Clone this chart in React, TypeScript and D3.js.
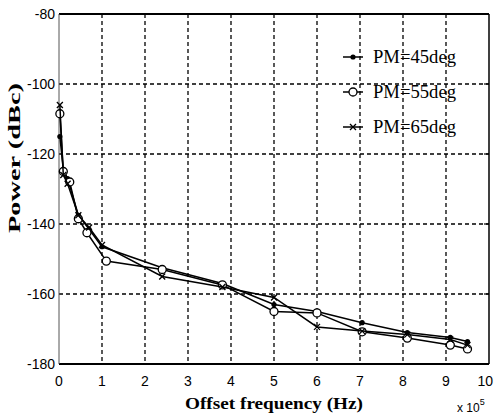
import { useEffect, useRef } from 'react';
import * as d3 from 'd3';

// offset frequency (x 1e5 Hz) and power (dBc) per series
const pm45Freq = [0.02, 0.1, 0.2, 0.45, 0.7, 1.0, 2.4, 3.8, 5, 6, 7.05, 8.1, 9.1, 9.5];
const pm45Power = [-115, -124.5, -127, -137.5, -141.5, -146.5, -152.5, -157, -163, -165, -168.2, -171, -172.4, -173.6];
const pm55Freq = [0.02, 0.1, 0.25, 0.45, 0.65, 1.1, 2.4, 3.8, 5, 6, 7.05, 8.1, 9.1, 9.5];
const pm55Power = [-108.5, -125, -128, -138.5, -142.5, -150.6, -153, -157.4, -165, -165.4, -170.8, -172.6, -174.6, -175.7];
const pm65Freq = [0.02, 0.1, 0.2, 0.45, 0.7, 1.0, 2.4, 3.8, 5, 6, 7.05, 8.1, 9.1, 9.5];
const pm65Power = [-106, -126, -128.5, -137.5, -141, -146, -155, -158, -161, -169.4, -170.6, -171.6, -173, -174.6];

const seriesNames = ['PM=45deg', 'PM=55deg', 'PM=65deg'];
const seriesMarkers = ['dot', 'circle', 'cross'];

const xTicks = [0, 1, 2, 3, 4, 5, 6, 7, 8, 9, 10];
const yTicks = [-80, -100, -120, -140, -160, -180];

const App = () => {
  const svgRef = useRef<SVGSVGElement>(null);

  useEffect(() => {
    const svg = d3.select(svgRef.current);
    svg.selectAll('*').remove();

    const left = 59, right = 489, top = 14, bottom = 364;
    const x = d3.scaleLinear().domain([0, 10]).range([left, right]);
    const y = d3.scaleLinear().domain([-180, -80]).range([bottom, top]);

    svg.append('rect').attr('width', 494).attr('height', 417).attr('fill', 'white');

    // grid
    const grid = svg.append('g').attr('stroke', '#000').attr('stroke-width', 1.3).attr('stroke-dasharray', '4,3');
    grid.selectAll('line.gx')
      .data(xTicks.slice(1, -1))
      .enter()
      .append('line')
      .attr('x1', (d) => x(d)).attr('x2', (d) => x(d))
      .attr('y1', top).attr('y2', bottom);
    grid.selectAll('line.gy')
      .data(yTicks.slice(1, -1))
      .enter()
      .append('line')
      .attr('x1', left).attr('x2', right)
      .attr('y1', (d) => y(d)).attr('y2', (d) => y(d));

    // axes box
    svg.append('line').attr('x1', left).attr('x2', right).attr('y1', top).attr('y2', top).attr('stroke', '#000').attr('stroke-width', 2);
    svg.append('line').attr('x1', left).attr('x2', right).attr('y1', bottom).attr('y2', bottom).attr('stroke', '#000').attr('stroke-width', 2);
    svg.append('line').attr('x1', left).attr('x2', left).attr('y1', top).attr('y2', bottom).attr('stroke', '#555').attr('stroke-width', 1);
    svg.append('line').attr('x1', right).attr('x2', right).attr('y1', top).attr('y2', bottom).attr('stroke', '#000').attr('stroke-width', 1.5);

    // tick marks on right side
    svg.selectAll('line.rt')
      .data(yTicks)
      .enter()
      .append('line')
      .attr('x1', right - 5).attr('x2', right)
      .attr('y1', (d) => y(d)).attr('y2', (d) => y(d))
      .attr('stroke', '#000').attr('stroke-width', 1.2);

    const tickFont = '"Liberation Sans Narrow", "Liberation Sans", sans-serif';

    svg.append('g')
      .selectAll('text')
      .data(yTicks)
      .enter()
      .append('text')
      .attr('x', left - 4)
      .attr('y', (d) => y(d) + 5)
      .attr('text-anchor', 'end')
      .style('font-family', tickFont)
      .style('font-size', '14px')
      .text((d) => d);

    svg.append('g')
      .selectAll('text')
      .data(xTicks)
      .enter()
      .append('text')
      .attr('x', (d) => (d === 10 ? 493 : x(d)))
      .attr('y', bottom + 22)
      .attr('text-anchor', (d) => (d === 10 ? 'end' : 'middle'))
      .style('font-family', tickFont)
      .style('font-size', '14px')
      .text((d) => d);

    // axis titles
    svg.append('text')
      .attr('x', 274)
      .attr('y', 409)
      .attr('text-anchor', 'middle')
      .attr('textLength', 178)
      .attr('lengthAdjust', 'spacingAndGlyphs')
      .style('font-family', '"Liberation Serif", serif')
      .style('font-weight', 'bold')
      .style('font-size', '17px')
      .text('Offset frequency (Hz)');

    svg.append('text')
      .attr('transform', 'translate(20,158) rotate(-90)')
      .attr('text-anchor', 'middle')
      .attr('textLength', 150)
      .attr('lengthAdjust', 'spacingAndGlyphs')
      .style('font-family', '"Liberation Serif", serif')
      .style('font-weight', 'bold')
      .style('font-size', '17px')
      .text('Power  (dBc)');

    const mult = svg.append('text')
      .attr('x', 457)
      .attr('y', 412)
      .style('font-family', tickFont)
      .style('font-size', '12px');
    mult.append('tspan').text('x 10');
    mult.append('tspan').attr('dy', -7).style('font-size', '9px').text('5');

    const drawMarker = (g, kind, cx, cy) => {
      if (kind === 'dot') {
        g.append('circle').attr('cx', cx).attr('cy', cy).attr('r', 2.6).attr('fill', '#000');
      } else if (kind === 'circle') {
        g.append('circle').attr('cx', cx).attr('cy', cy).attr('r', 4).attr('fill', 'white').attr('stroke', '#000').attr('stroke-width', 1.3);
      } else {
        const s = 3;
        g.append('path')
          .attr('d', `M${cx - s},${cy - s}L${cx + s},${cy + s}M${cx - s},${cy + s}L${cx + s},${cy - s}`)
          .attr('stroke', '#000').attr('stroke-width', 1.3);
      }
    };

    const allSeries = [
      { freq: pm45Freq, power: pm45Power },
      { freq: pm55Freq, power: pm55Power },
      { freq: pm65Freq, power: pm65Power },
    ];

    const line = d3.line<[number, number]>().x((d) => x(d[0])).y((d) => y(d[1]));

    allSeries.forEach((s, i) => {
      const pts = s.freq.map((f, j) => [f, s.power[j]] as [number, number]);
      const g = svg.append('g');
      g.append('path')
        .attr('d', line(pts))
        .attr('fill', 'none')
        .attr('stroke', '#000')
        .attr('stroke-width', 1.5);
      pts.forEach((p) => drawMarker(g, seriesMarkers[i], x(p[0]), y(p[1])));
    });

    // legend
    const legend = svg.append('g');
    seriesNames.forEach((name, i) => {
      const ly = 57 + i * 35;
      legend.append('line').attr('x1', 343).attr('x2', 363).attr('y1', ly).attr('y2', ly).attr('stroke', '#000').attr('stroke-width', 1.5);
      drawMarker(legend, seriesMarkers[i], 353, ly);
      legend.append('text')
        .attr('x', 373)
        .attr('y', ly + 6)
        .attr('textLength', 83)
        .attr('lengthAdjust', 'spacingAndGlyphs')
        .style('font-family', '"Liberation Serif", serif')
        .style('font-size', '18px')
        .text(name);
    });
  }, []);

  return (
    <div style={{ position: 'absolute', left: 0, top: 0 }}>
      <svg ref={svgRef} width={494} height={417}></svg>
    </div>
  );
};

export default App;
